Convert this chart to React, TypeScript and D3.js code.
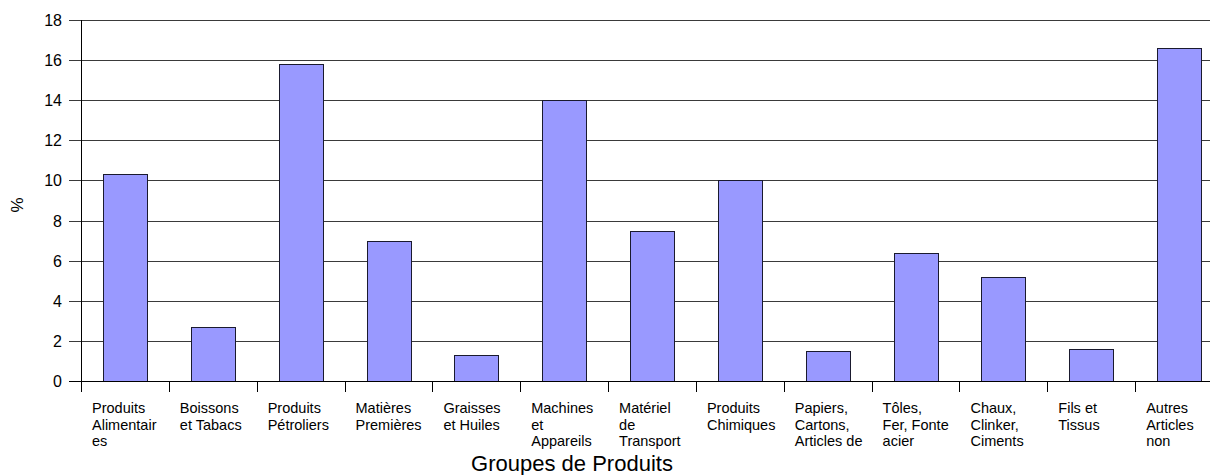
import React from "react";
import * as d3 from "d3";

const categories: string[][] = [
  ["Produits", "Alimentair", "es"],
  ["Boissons", "et Tabacs"],
  ["Produits", "Pétroliers"],
  ["Matières", "Premières"],
  ["Graisses", "et Huiles"],
  ["Machines", "et", "Appareils"],
  ["Matériel", "de", "Transport"],
  ["Produits", "Chimiques"],
  ["Papiers,", "Cartons,", "Articles de"],
  ["Tôles,", "Fer, Fonte", "acier"],
  ["Chaux,", "Clinker,", "Ciments"],
  ["Fils et", "Tissus"],
  ["Autres", "Articles", "non"],
];
const values: number[] = [10.3, 2.7, 15.8, 7.0, 1.3, 14.0, 7.5, 10.0, 1.5, 6.4, 5.2, 1.6, 16.6];
const yTicks: number[] = [0, 2, 4, 6, 8, 10, 12, 14, 16, 18];
const xTitle = "Groupes de Produits";
const yTitle = "%";

export default function App() {
  const W = 1210;
  const H = 475;
  const left = 81;
  const right = 1223;
  const top = 20;
  const bottom = 381;
  const font = "Arial, 'Liberation Sans', sans-serif";

  const x = d3
    .scaleBand<number>()
    .domain(values.map((_, i) => i))
    .range([left, right])
    .paddingInner(0.5)
    .paddingOuter(0.25);
  const step = (right - left) / values.length;
  const y = d3.scaleLinear().domain([0, 18]).range([bottom, top]);

  return (
    <svg
      width={W}
      height={H}
      style={{ position: "absolute", left: 0, top: 0, background: "#fff" }}
      fontFamily={font}
    >
      {/* grid lines */}
      {yTicks.map((t) => (
        <line
          key={"g" + t}
          x1={69}
          x2={W}
          y1={Math.round(y(t)) + 0.5}
          y2={Math.round(y(t)) + 0.5}
          stroke={t === 0 ? "#000" : "#3a3a3a"}
          strokeWidth={1}
        />
      ))}
      {/* y tick labels */}
      {yTicks.map((t) => (
        <text
          key={"yl" + t}
          x={62}
          y={Math.round(y(t)) + 6}
          textAnchor="end"
          fontSize={16}
          fill="#000"
        >
          {t}
        </text>
      ))}
      {/* bars */}
      {values.map((v, i) => (
        <rect
          key={"b" + i}
          x={Math.round(x(i)!) + 0.5}
          y={Math.round(y(v)) + 0.5}
          width={Math.round(x.bandwidth())}
          height={Math.round(y(0)) - Math.round(y(v))}
          fill="#9999FF"
          stroke="#1a1a2e"
          strokeWidth={1}
        />
      ))}
      {/* axes */}
      <line x1={left + 0.5} x2={left + 0.5} y1={top} y2={bottom + 1} stroke="#000" strokeWidth={1} />
      <line x1={left} x2={W} y1={bottom + 0.5} y2={bottom + 0.5} stroke="#000" strokeWidth={1} />
      {/* x ticks */}
      {values.map((_, i) => (
        <line
          key={"xt" + i}
          x1={Math.round(left + i * step) + 0.5}
          x2={Math.round(left + i * step) + 0.5}
          y1={bottom}
          y2={bottom + 11}
          stroke="#000"
          strokeWidth={1}
        />
      ))}
      {/* category labels */}
      {categories.map((lines, i) => (
        <text key={"c" + i} fontSize={14.5} fill="#000">
          {lines.map((ln, j) => (
            <tspan key={j} x={left + i * step + 11} y={413 + j * 16.7}>
              {ln}
            </tspan>
          ))}
        </text>
      ))}
      {/* axis titles */}
      <text x={572} y={471} textAnchor="middle" fontSize={22} fill="#000">
        {xTitle}
      </text>
      <text
        transform={`translate(23,205) rotate(-90)`}
        textAnchor="middle"
        fontSize={17}
        fill="#000"
      >
        {yTitle}
      </text>
    </svg>
  );
}
